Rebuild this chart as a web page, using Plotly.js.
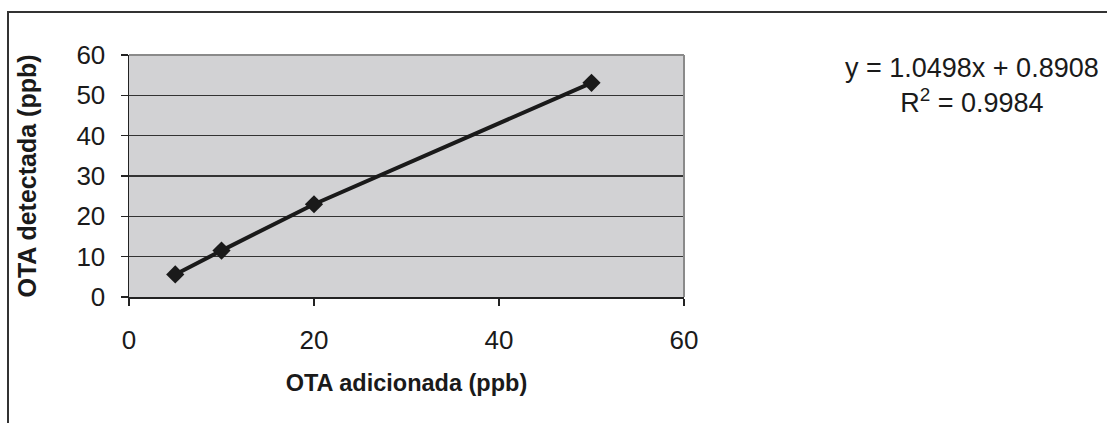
<!DOCTYPE html>
<html>
<head>
<meta charset="utf-8">
<script src="https://cdn.plot.ly/plotly-3.0.1.min.js"></script>
<style>
html, body { margin: 0; padding: 0; background: #fff; }
#wrap { position: relative; width: 1107px; height: 423px; overflow: hidden; }
#frame { position: absolute; left: 7px; top: 11px; width: 1200px; height: 500px;
  border-top: 2px solid #333; border-left: 2px solid #333; box-sizing: border-box; }
#chart { position: absolute; left: 0; top: 0; width: 1107px; height: 423px; }
</style>
</head>
<body>
<div id="wrap">
<div id="frame"></div>
<div id="chart"></div>
</div>
<script>
// Data
const otaAdicionada = [5, 10, 20, 50];
const otaDetectada = [5.6, 11.5, 23.0, 53.1];
const xTicks = [0, 20, 40, 60];
const yTicks = [0, 10, 20, 30, 40, 50, 60];
const equationText = "y = 1.0498x + 0.8908";
const r2Text = "R<sup>2</sup> = 0.9984";
const xTitle = "OTA adicionada (ppb)";
const yTitle = "OTA detectada (ppb)";

const font = "Liberation Sans, Arial, sans-serif";

const trace = {
  x: otaAdicionada,
  y: otaDetectada,
  type: "scatter",
  mode: "lines+markers",
  line: { color: "#1a1a1a", width: 4 },
  marker: { symbol: "diamond", size: 14, color: "#1a1a1a" },
  hoverinfo: "none",
  showlegend: false
};

const layout = {
  width: 1107,
  height: 423,
  margin: { l: 129, r: 423, t: 55, b: 126, pad: 0 },
  paper_bgcolor: "rgba(0,0,0,0)",
  plot_bgcolor: "#d2d2d4",
  font: { family: font, color: "#1a1a1a", size: 26 },
  xaxis: {
    range: [0, 60],
    tickvals: xTicks,
    ticktext: xTicks.map(String),
    ticks: "outside",
    ticklen: 7,
    tickwidth: 1.2,
    tickcolor: "#222",
    showgrid: false,
    zeroline: false,
    showline: true,
    linecolor: "#222",
    linewidth: 1.5,
    ticklabelstandoff: 12,
    tickfont: { family: font, size: 26, color: "#1a1a1a" },
    title: { text: xTitle, font: { family: font, size: 23.5, color: "#1a1a1a", weight: "bold" }, standoff: 21 },
    fixedrange: true
  },
  yaxis: {
    range: [0, 60],
    tickvals: yTicks,
    ticktext: yTicks.map(String),
    ticks: "outside",
    ticklen: 7,
    tickwidth: 1.2,
    tickcolor: "#222",
    showgrid: true,
    gridcolor: "#333",
    gridwidth: 1.3,
    zeroline: false,
    showline: true,
    linecolor: "#222",
    linewidth: 1.5,
    ticklabelstandoff: 10,
    tickfont: { family: font, size: 26, color: "#1a1a1a" },
    title: { text: yTitle, font: { family: font, size: 25, color: "#1a1a1a", weight: "bold" }, standoff: 32 },
    fixedrange: true
  },
  shapes: [
    { type: "line", xref: "paper", yref: "paper", x0: 0, x1: 1, y0: 1, y1: 1, line: { color: "#8a8a8a", width: 2 } },
    { type: "line", xref: "paper", yref: "paper", x0: 1, x1: 1, y0: 0, y1: 1, line: { color: "#8a8a8a", width: 2 } }
  ],
  annotations: [
    {
      xref: "paper", yref: "paper",
      x: 1.519, y: 0.874,
      xanchor: "center", yanchor: "middle",
      align: "center",
      showarrow: false,
      text: equationText + "<br>" + r2Text,
      font: { family: font, size: 27, color: "#1a1a1a" }
    }
  ]
};

Plotly.newPlot("chart", [trace], layout, { displayModeBar: false, staticPlot: true });
</script>
</body>
</html>
